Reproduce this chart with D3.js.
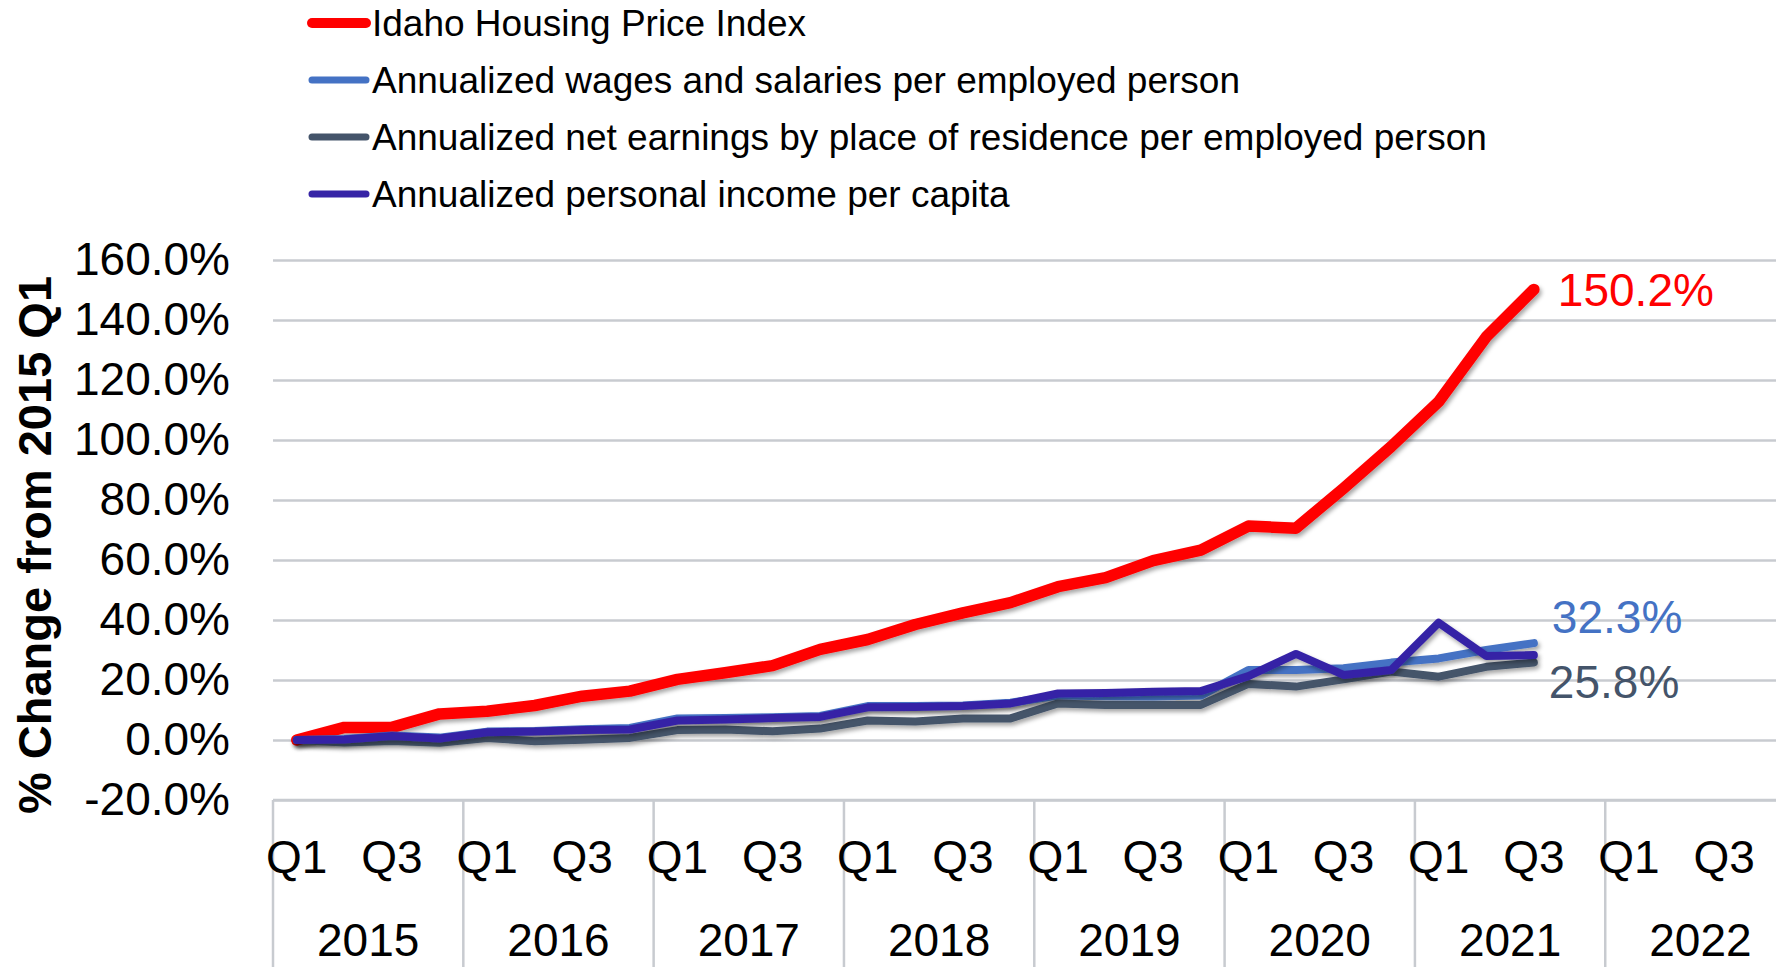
<!DOCTYPE html>
<html lang="en">
<head>
<meta charset="utf-8">
<title>Idaho Housing Price Index vs Income</title>
<script src="https://d3js.org/d3.v7.min.js"></script>
<style>
  html, body { margin: 0; padding: 0; background: #fff; overflow: hidden; }
  text { font-family: "Liberation Sans", Arial, sans-serif; }
</style>
</head>
<body>
<script>
// data (% change from 2015 Q1)
var years = ["2015", "2016", "2017", "2018", "2019", "2020", "2021", "2022"];
var quarters = ["Q1", "Q2", "Q3", "Q4"];
var shownQuarters = ["Q1", "Q3"];
var yTicks = [-20, 0, 20, 40, 60, 80, 100, 120, 140, 160];

var seriesNames = [
  "Idaho Housing Price Index",
  "Annualized wages and salaries per employed person",
  "Annualized net earnings by place of residence per employed person",
  "Annualized personal income per capita"
];
var housing = [0, 4.2, 4.2, 8.7, 9.6, 11.5, 14.6, 16.3, 20.2, 22.4, 24.8, 30.2, 33.5, 38.5,
  42.4, 45.8, 51.1, 54.1, 59.8, 63.3, 71.3, 70.6, 83.9, 97.8, 112.8, 134.4, 150.2];
var wages = [0, 0.3, 1.5, 0.8, 2.8, 3.0, 3.6, 4.0, 7.2, 7.3, 7.6, 8.0, 11.3, 11.3,
  11.5, 12.4, 14.8, 14.6, 14.5, 14.8, 23.3, 23.3, 23.9, 25.8, 27.2, 30.0, 32.3];
var netEarnings = [0, -0.8, -0.3, -0.9, 0.7, -0.4, 0.1, 0.7, 3.3, 3.5, 2.9, 3.8, 6.5, 6.2,
  7.2, 7.2, 12.2, 11.7, 11.7, 11.7, 18.7, 17.8, 20.2, 22.8, 21.1, 24.4, 25.8];
var personalIncome = [0, 0.2, 1.3, 0.5, 2.6, 2.8, 3.3, 3.5, 6.5, 6.8, 7.3, 7.7, 10.9, 11.0,
  11.3, 12.2, 15.5, 15.7, 16.1, 16.3, 21.3, 28.7, 21.7, 23.3, 39.1, 28.0, 28.3];
var endLabels = ["150.2%", "32.3%", "25.8%", null];

var colors = ["#FF0000", "#4472C4", "#44546A", "#3624A6"];
var widths = [11.5, 8, 8, 8];
var legWidths = [10, 7, 7, 7];

var w = 1776, h = 967;
var plotLeft = 273, plotTop = 260, plotBottom = 800;
var qStep = 47.58;

var periods = [];
years.forEach(function(yr) {
  quarters.forEach(function(q) { periods.push(yr + " " + q); });
});

var x = d3.scaleBand()
  .domain(periods)
  .range([plotLeft, plotLeft + qStep * periods.length]);
var y = d3.scaleLinear()
  .domain([-20, 160])
  .range([plotBottom, plotTop]);

var svg = d3.select("body").append("svg")
  .attr("width", w)
  .attr("height", h);

var defs = svg.append("defs");
var f = defs.append("filter").attr("id", "shadow")
  .attr("x", "-5%").attr("y", "-20%").attr("width", "110%").attr("height", "140%");
f.append("feDropShadow").attr("dx", 2).attr("dy", 3)
  .attr("stdDeviation", 2).attr("flood-color", "#000").attr("flood-opacity", 0.35);

// gridlines + tick labels
var yAxis = svg.append("g")
  .attr("transform", "translate(" + plotLeft + ",0)")
  .call(d3.axisLeft(y)
    .tickValues(yTicks)
    .tickSize(-(w - plotLeft))
    .tickPadding(43)
    .tickFormat(function(d) { return d.toFixed(1) + "%"; }));
yAxis.select(".domain").remove();
yAxis.selectAll(".tick line")
  .attr("stroke", "#C8CBD0")
  .attr("stroke-width", 2.5);
yAxis.selectAll(".tick text")
  .attr("fill", "#000")
  .attr("font-size", "46px")
  .attr("font-family", "'Liberation Sans', Arial, sans-serif");

svg.append("text")
  .attr("transform", "translate(51,545) rotate(-90)")
  .attr("text-anchor", "middle")
  .attr("font-size", "47px")
  .attr("font-weight", "bold")
  .attr("fill", "#000")
  .text("% Change from 2015 Q1");

// multi-level category axis
var xg = svg.append("g");
xg.append("line")
  .attr("x1", plotLeft).attr("x2", w)
  .attr("y1", plotBottom).attr("y2", plotBottom)
  .attr("stroke", "#C8CBD0").attr("stroke-width", 2.5);
xg.selectAll(".sep")
  .data(years)
  .enter().append("line")
  .attr("x1", function(d) { return x(d + " Q1"); })
  .attr("x2", function(d) { return x(d + " Q1"); })
  .attr("y1", plotBottom).attr("y2", h)
  .attr("stroke", "#C8CBD0").attr("stroke-width", 2.5);

var qLab = [];
years.forEach(function(yr) {
  shownQuarters.forEach(function(q) { qLab.push({ key: yr + " " + q, q: q }); });
});
xg.selectAll(".qlab")
  .data(qLab)
  .enter().append("text")
  .attr("x", function(d) { return x(d.key) + x.bandwidth() / 2; })
  .attr("y", 873)
  .attr("text-anchor", "middle")
  .attr("font-size", "46px")
  .attr("fill", "#000")
  .text(function(d) { return d.q; });
xg.selectAll(".ylab")
  .data(years)
  .enter().append("text")
  .attr("x", function(d) { return x(d + " Q1") + x.bandwidth() * 2; })
  .attr("y", 956)
  .attr("text-anchor", "middle")
  .attr("font-size", "46px")
  .attr("fill", "#000")
  .text(function(d) { return d; });

// lines
var allSeries = [housing, wages, netEarnings, personalIncome];
var line = d3.line()
  .x(function(d, i) { return x(periods[i]) + x.bandwidth() / 2; })
  .y(function(d) { return y(d); });

svg.append("g").selectAll("path")
  .data(allSeries)
  .enter().append("path")
  .attr("d", line)
  .attr("fill", "none")
  .attr("stroke", function(d, i) { return colors[i]; })
  .attr("stroke-width", function(d, i) { return widths[i]; })
  .attr("stroke-linecap", "round")
  .attr("stroke-linejoin", "round")
  .attr("filter", "url(#shadow)");

// end value labels
var labOffset = [[24, 0], [18, -27], [15, 19], [0, 0]];
allSeries.forEach(function(s, i) {
  if (!endLabels[i]) return;
  var last = s.length - 1;
  svg.append("text")
    .attr("x", x(periods[last]) + x.bandwidth() / 2 + labOffset[i][0])
    .attr("y", y(s[last]) + labOffset[i][1])
    .attr("dy", "0.36em")
    .attr("font-size", "46px")
    .attr("fill", colors[i])
    .text(endLabels[i]);
});

// legend
var legend = svg.append("g");
var legY = [23, 80, 137, 194];
seriesNames.forEach(function(name, i) {
  legend.append("line")
    .attr("x1", 312).attr("x2", 366)
    .attr("y1", legY[i]).attr("y2", legY[i])
    .attr("stroke", colors[i])
    .attr("stroke-width", legWidths[i])
    .attr("stroke-linecap", "round");
  legend.append("text")
    .attr("x", 372)
    .attr("y", legY[i])
    .attr("dy", "0.35em")
    .attr("font-size", "37px")
    .attr("fill", "#000")
    .text(name);
});
</script>
</body>
</html>
